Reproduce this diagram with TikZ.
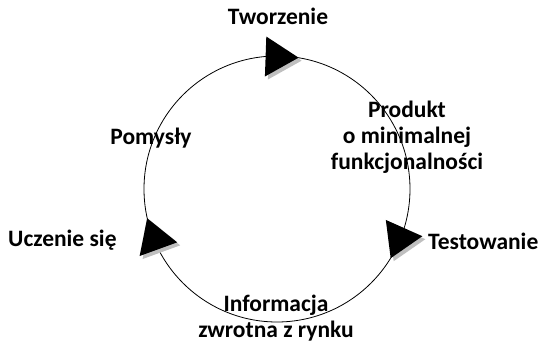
\documentclass[tikz,border=0pt]{standalone}
\usepackage{fontspec}
\setmainfont{Carlito}
\begin{document}
\begin{tikzpicture}[x=1pt,y=1pt,
  txt/.style={font=\bfseries\fontsize{23.5}{26}\selectfont,inner sep=0pt,align=center},
  shade/.style={fill=black!25}]
\useasboundingbox (-277,-155) rectangle (264,189);
\draw[line width=0.8pt] (0,0) circle (133);
\foreach \a in {88,-24,200}{
  \fill[shade,shift={(3,-3)},shift={(\a:132)},rotate=\a-90]
    (17,0) -- (-16,20) -- (-16,-20) -- cycle;
  \fill[shift={(\a:132)},rotate=\a-90]
    (17,0) -- (-16,20) -- (-16,-20) -- cycle;
}
\node[txt,anchor=base] (tworz) at (1,164) {Tworzenie};
\node[txt,anchor=base] (pomys) at (-126,44) {Pomysły};
\node[txt,anchor=base] (prod) at (130,19) {Produkt\\o minimalnej\\funkcjonalności};
\node[txt,anchor=base west] (test) at (151,-61) {Testowanie};
\node[txt,anchor=base west] (ucz) at (-269,-58) {Uczenie się};
\node[txt,anchor=base] (info) at (-1,-149) {Informacja\\zwrotna z rynku};
\end{tikzpicture}
\end{document}
